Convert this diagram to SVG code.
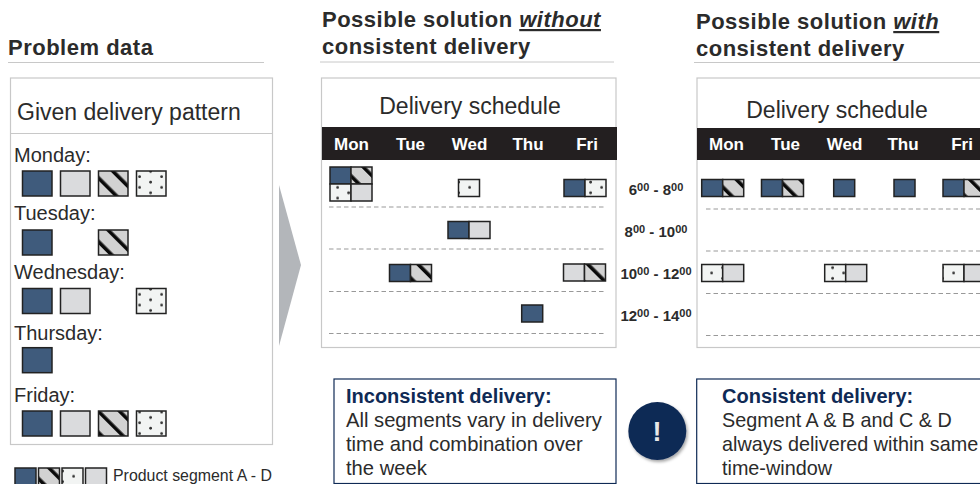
<svg xmlns="http://www.w3.org/2000/svg" width="980" height="484" viewBox="0 0 980 484">
<style>
text{font-family:"Liberation Sans",Arial,sans-serif;fill:#2b2b2b}
.h{font-size:22px;font-weight:bold;letter-spacing:.5px}
.rule{stroke:#c8c8c8;stroke-width:1;fill:none}
.panel{fill:#fff;stroke:#c8c8c8;stroke-width:1.2}
.t1{font-size:23px}
.t2{font-size:20px}
.ds{font-size:23px;text-anchor:middle}
.day{font-size:17px;font-weight:bold;fill:#fff;text-anchor:middle}
.bar{fill:#231f20}
.a,.b,.c,.d{stroke:#222;stroke-width:1.5}
.a{fill:#3f5b7c}.b{fill:url(#stripe)}.c{fill:#dadbdd}.d{fill:url(#dots)}
.dash{stroke:#999;stroke-width:1;stroke-dasharray:4.5 3;fill:none}
.tm{font-size:15px;font-weight:bold;text-anchor:middle}
.sup{font-size:11px}
.box{fill:#fff;stroke:#0f2a55;stroke-width:1.2}
.bt{font-size:20.2px}
.bt2{font-size:19.8px}
.bh{font-size:20px;font-weight:bold;fill:#0f2a55}
</style>
<defs>
<pattern id="stripe" patternUnits="userSpaceOnUse" width="15" height="15" patternTransform="rotate(45)">
<rect width="15" height="15" fill="#d2d2d2"/><rect y="9.4" width="15" height="3.6" fill="#0a0a0a"/>
</pattern>
<pattern id="dots" patternUnits="userSpaceOnUse" width="22" height="10.7">
<rect width="22" height="10.7" fill="#f2f4f3"/><circle cx="7.6" cy="5.5" r="1.4" fill="#333"/><circle cx="18.6" cy="0.2" r="1.4" fill="#333"/><circle cx="18.6" cy="10.9" r="1.4" fill="#333"/>
</pattern>
<filter id="sh" x="-20%" y="-20%" width="150%" height="150%"><feDropShadow dx="1.5" dy="2" stdDeviation="1.5" flood-color="#000" flood-opacity=".35"/></filter>
</defs>

<g id="connectors"><polygon points="279,185 301,265 279,346" fill="#b3b6ba"/></g>

<g id="problem-data">
<text class="h" x="8" y="55">Problem data</text>
<line class="rule" x1="8" y1="62.5" x2="264" y2="62.5"/>
<rect class="panel" x="10.5" y="78" width="262" height="366.5"/>
<line class="rule" x1="10.5" y1="133.5" x2="272.5" y2="133.5"/>
<text class="t1" x="17" y="120">Given delivery pattern</text>
<text class="t2" x="14" y="162">Monday:</text>
<rect class="a" x="22.5" y="171" width="29.5" height="25"/><rect class="c" x="60.5" y="171" width="29.5" height="25"/><rect class="b" x="98.5" y="171" width="29.5" height="25"/><rect class="d" x="136.5" y="171" width="29.5" height="25"/>
<text class="t2" x="14" y="220">Tuesday:</text>
<rect class="a" x="22.5" y="230" width="29.5" height="25"/><rect class="b" x="98.5" y="230" width="29.5" height="25"/>
<text class="t2" x="14" y="279">Wednesday:</text>
<rect class="a" x="22.5" y="288.5" width="29.5" height="25"/><rect class="c" x="60.5" y="288.5" width="29.5" height="25"/><rect class="d" x="136.5" y="288.5" width="29.5" height="25"/>
<text class="t2" x="14" y="340">Thursday:</text>
<rect class="a" x="22.5" y="347.7" width="29.5" height="25"/>
<text class="t2" x="14" y="402">Friday:</text>
<rect class="a" x="22.5" y="411" width="29.5" height="25"/><rect class="c" x="60.5" y="411" width="29.5" height="25"/><rect class="b" x="98.5" y="411" width="29.5" height="25"/><rect class="d" x="136.5" y="411" width="29.5" height="25"/>
</g>

<g id="legend">
<rect class="a" x="15" y="468" width="21" height="17"/><rect class="b" x="38.5" y="468" width="21" height="17"/><rect class="d" x="62" y="468" width="21" height="17"/><rect class="c" x="85.5" y="468" width="21" height="17"/>
<text x="113" y="481" font-size="15.9">Product segment A - D</text>
</g>

<g id="solution-without">
<text class="h" x="322" y="27">Possible solution <tspan font-style="italic" text-decoration="underline">without</tspan></text>
<text class="h" x="322" y="54">consistent delivery</text>
<line class="rule" x1="320" y1="62" x2="614" y2="62"/>
<rect class="panel" x="321.5" y="78" width="294.5" height="269.5"/>
<text class="ds" x="470" y="114">Delivery schedule</text>
<rect class="bar" x="322" y="127" width="295" height="33"/>
<text class="day" x="351.5" y="150">Mon</text><text class="day" x="410.5" y="150">Tue</text><text class="day" x="469.5" y="150">Wed</text><text class="day" x="528" y="150">Thu</text><text class="day" x="587" y="150">Fri</text>
<rect class="a" x="330" y="167" width="21" height="17"/><rect class="b" x="351" y="167" width="21" height="17"/><rect class="d" x="330" y="184" width="21" height="17"/><rect class="c" x="351" y="184" width="21" height="17"/>
<rect class="d" x="458.5" y="179.5" width="21" height="17"/>
<rect class="a" x="564" y="179.5" width="21" height="17"/><rect class="d" x="585" y="179.5" width="21" height="17"/>
<line class="dash" x1="329" y1="207" x2="606" y2="207"/>
<rect class="a" x="448" y="221.5" width="21" height="17"/><rect class="c" x="469" y="221.5" width="21" height="17"/>
<line class="dash" x1="329" y1="249" x2="606" y2="249"/>
<rect class="a" x="389.5" y="264.5" width="21" height="17"/><rect class="b" x="410.5" y="264.5" width="21" height="17"/>
<rect class="c" x="563.5" y="264" width="21" height="17"/><rect class="b" x="584.5" y="264" width="21" height="17"/>
<line class="dash" x1="329" y1="291.5" x2="606" y2="291.5"/>
<rect class="a" x="521.7" y="305" width="21" height="17"/>
<line class="dash" x1="329" y1="333.5" x2="606" y2="333.5"/>
</g>

<g id="time-labels">
<text class="tm" x="656" y="195">6<tspan class="sup" dy="-4">00</tspan><tspan dy="4"> - 8</tspan><tspan class="sup" dy="-4">00</tspan></text>
<text class="tm" x="656" y="237">8<tspan class="sup" dy="-4">00</tspan><tspan dy="4"> - 10</tspan><tspan class="sup" dy="-4">00</tspan></text>
<text class="tm" x="656" y="279">10<tspan class="sup" dy="-4">00</tspan><tspan dy="4"> - 12</tspan><tspan class="sup" dy="-4">00</tspan></text>
<text class="tm" x="656" y="321">12<tspan class="sup" dy="-4">00</tspan><tspan dy="4"> - 14</tspan><tspan class="sup" dy="-4">00</tspan></text>
</g>

<g id="solution-with">
<text class="h" x="696" y="29">Possible solution <tspan font-style="italic" text-decoration="underline">with</tspan></text>
<text class="h" x="696" y="56">consistent delivery</text>
<line class="rule" x1="694" y1="62.5" x2="980" y2="62.5"/>
<rect class="panel" x="697" y="78" width="295" height="269.5"/>
<text class="ds" x="837" y="118">Delivery schedule</text>
<rect class="bar" x="697" y="128" width="283" height="32"/>
<text class="day" x="726.5" y="150">Mon</text><text class="day" x="785.5" y="150">Tue</text><text class="day" x="844.5" y="150">Wed</text><text class="day" x="903" y="150">Thu</text><text class="day" x="962" y="150">Fri</text>
<rect class="a" x="701.7" y="179.5" width="21" height="17"/><rect class="b" x="722.7" y="179.5" width="21" height="17"/>
<rect class="a" x="761.5" y="179.5" width="21" height="17"/><rect class="b" x="782.5" y="179.5" width="21" height="17"/>
<rect class="a" x="833.7" y="179.5" width="21" height="17"/>
<rect class="a" x="894" y="179.5" width="21" height="17"/>
<rect class="a" x="943" y="179.5" width="21" height="17"/><rect class="b" x="964" y="179.5" width="21" height="17"/>
<line class="dash" x1="706" y1="209" x2="980" y2="209"/>
<line class="dash" x1="706" y1="251" x2="980" y2="251"/>
<rect class="d" x="701.7" y="264.5" width="21" height="17"/><rect class="c" x="722.7" y="264.5" width="21" height="17"/>
<rect class="d" x="824.7" y="264.5" width="21" height="17"/><rect class="c" x="845.7" y="264.5" width="21" height="17"/>
<rect class="d" x="943" y="264.5" width="21" height="17"/><rect class="c" x="964" y="264.5" width="21" height="17"/>
<line class="dash" x1="706" y1="293.5" x2="980" y2="293.5"/>
<line class="dash" x1="706" y1="335.5" x2="980" y2="335.5"/>
</g>

<g id="note-inconsistent">
<rect class="box" x="334" y="379" width="282" height="104.5"/>
<text class="bh" x="346" y="403">Inconsistent delivery:</text>
<text class="bt" x="346" y="427">All segments vary in delivery</text>
<text class="bt" x="346" y="451">time and combination over</text>
<text class="bt" x="346" y="475">the week</text>
</g>

<g id="alert">
<circle cx="657.3" cy="431" r="29" fill="#0f2a55" filter="url(#sh)"/>
<text x="657" y="441" font-size="27" font-weight="bold" text-anchor="middle" style="fill:#e8e8e8">!</text>
</g>

<g id="note-consistent">
<rect class="box" x="696.7" y="379" width="295" height="104.5"/>
<text class="bh" x="722" y="403">Consistent delivery:</text>
<text class="bt2" x="722" y="427">Segment A &amp; B and C &amp; D</text>
<text class="bt2" x="722" y="451">always delivered within same</text>
<text class="bt2" x="722" y="475">time-window</text>
</g>
</svg>
